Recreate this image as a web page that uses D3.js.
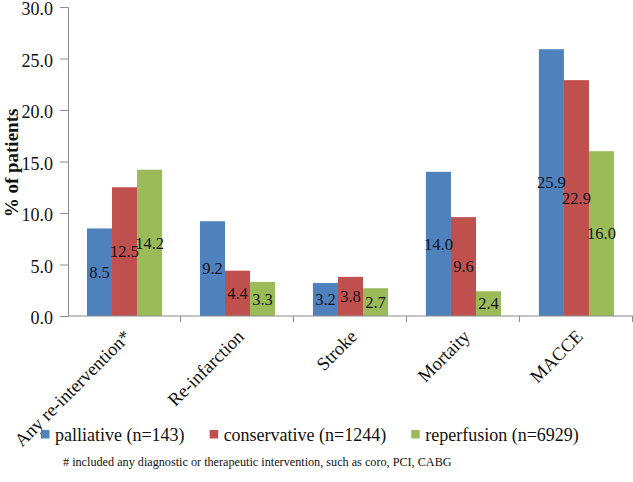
<!DOCTYPE html>
<html>
<head>
<meta charset="utf-8">
<script src="https://cdn.jsdelivr.net/npm/d3@7"></script>
<style>
  html, body { margin: 0; padding: 0; background: #fff; }
  svg { display: block; }
  svg text { font-family: "Liberation Serif", "Times New Roman", serif; }
</style>
</head>
<body>
<svg id="chart" width="633" height="482"></svg>
<script>
const categories = ["Any re-intervention*", "Re-infarction", "Stroke", "Mortaity", "MACCE"];
const seriesNames = ["palliative (n=143)", "conservative (n=1244)", "reperfusion (n=6929)"];
const palliative = [8.5, 9.2, 3.2, 14.0, 25.9];
const conservative = [12.5, 4.4, 3.8, 9.6, 22.9];
const reperfusion = [14.2, 3.3, 2.7, 2.4, 16.0];
const colors = ["#4F81BD", "#C0504D", "#9BBB59"];
const yTicks = [0, 5, 10, 15, 20, 25, 30];
const yTitle = "% of patients";
const footnote = "# included any diagnostic or therapeutic intervention, such as coro, PCI, CABG";

const seriesValues = [palliative, conservative, reperfusion];
const svg = d3.select("#chart");
const axisColor = "#8c8c8c";

const x0 = d3.scaleBand().domain(categories).range([68, 633]).paddingInner(0.335).paddingOuter(0.168);
const x1 = d3.scaleBand().domain(d3.range(seriesNames.length)).range([0, x0.bandwidth()]);
const y = d3.scaleLinear().domain([0, 30]).range([316, 7]);

// Bars
const groups = svg.append("g").selectAll("g").data(categories).join("g")
  .attr("transform", d => `translate(${x0(d)},0)`);

groups.each(function(cat, ci) {
  const g = d3.select(this);
  const data = seriesValues.map((arr, si) => ({ si, v: arr[ci] }));
  g.selectAll("rect").data(data).join("rect")
    .attr("x", d => x1(d.si))
    .attr("width", x1.bandwidth())
    .attr("y", d => y(d.v))
    .attr("height", d => y(0) - y(d.v))
    .attr("fill", d => colors[d.si]);
  g.selectAll("text").data(data).join("text")
    .attr("x", d => x1(d.si) + x1.bandwidth() / 2)
    .attr("y", d => (y(d.v) + y(0)) / 2)
    .attr("dy", "0.35em")
    .attr("text-anchor", "middle")
    .attr("font-size", 16.5)
    .attr("fill", "#14141e")
    .text(d => d.v.toFixed(1));
});

// Y axis
const yAxis = svg.append("g").attr("transform", "translate(68,0)")
  .call(d3.axisLeft(y).tickValues(yTicks).tickFormat(d3.format(".1f")).tickSize(8).tickPadding(7));
yAxis.attr("font-family", null);
yAxis.select(".domain").attr("stroke", axisColor);
yAxis.selectAll(".tick line").attr("stroke", axisColor);
yAxis.selectAll(".tick text").attr("font-size", 18).attr("dy", "0.42em").attr("fill", "#111");

// X axis
const xAxisG = svg.append("g").attr("transform", `translate(0,${y(0)})`);
xAxisG.append("line").attr("x1", 68).attr("x2", 633).attr("stroke", axisColor);
const boundaries = categories.map(c => x0(c) + x0.bandwidth() + x0.step() * x0.paddingInner() / 2);
xAxisG.selectAll("line.tk").data(boundaries).join("line").attr("class", "tk")
  .attr("x1", d => Math.round(d) - 0.5).attr("x2", d => Math.round(d) - 0.5)
  .attr("y1", 0).attr("y2", 6).attr("stroke", axisColor);
xAxisG.selectAll("text").data(categories).join("text")
  .attr("transform", d => `translate(${x0(d) + x0.bandwidth() / 2 + 3},17) rotate(-45)`)
  .attr("text-anchor", "end")
  .attr("dy", "0.35em")
  .attr("font-size", 18.5)
  .attr("fill", "#111")
  .text(d => d);

// Y title
svg.append("text")
  .attr("transform", "translate(18,163) rotate(-90)")
  .attr("text-anchor", "middle")
  .attr("font-size", 19)
  .attr("font-weight", "bold")
  .attr("fill", "#111")
  .text(yTitle);

// Legend
const legend = svg.append("g");
let lx = 41;
seriesNames.forEach((name, i) => {
  legend.append("rect").attr("x", lx).attr("y", 430).attr("width", 8.5).attr("height", 8.5).attr("fill", colors[i]);
  const t = legend.append("text").attr("x", lx + 14).attr("y", 441).attr("font-size", 18).attr("fill", "#111").text(name);
  lx = lx + 14 + t.node().getComputedTextLength() + 25;
});

// Footnote
svg.append("text").attr("x", 63).attr("y", 466).attr("font-size", 12.2).attr("fill", "#111").text(footnote);
</script>
</body>
</html>
